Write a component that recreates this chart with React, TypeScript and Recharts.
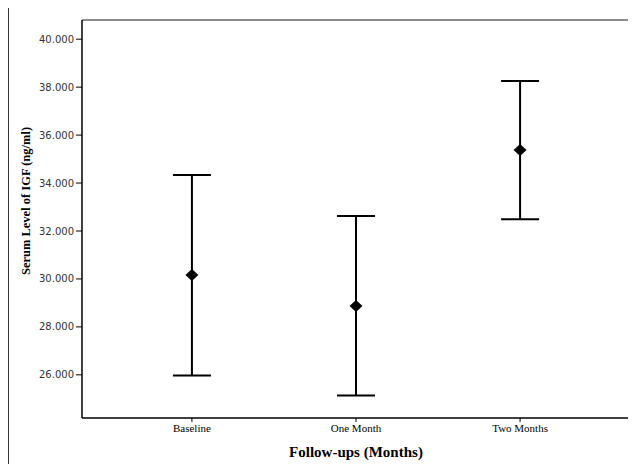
import React from 'react';
import {
  ComposedChart,
  Scatter,
  ErrorBar,
  XAxis,
  YAxis,
  ReferenceLine,
} from 'recharts';

const categories = ['Baseline', 'One Month', 'Two Months'];
const means = [30.16, 28.87, 35.38];
const lowerCI = [25.97, 25.14, 32.49];
const upperCI = [34.34, 32.63, 38.26];
const yTicks = [26, 28, 30, 32, 34, 36, 38, 40];

const X_DOMAIN: [number, number] = [-0.67, 2.67];
const Y_DOMAIN: [number, number] = [24.2, 40.8];

const data = categories.map((name, i) => ({
  x: i,
  name,
  mean: means[i],
  err: [means[i] - lowerCI[i], upperCI[i] - means[i]],
}));

const SERIF = '"Liberation Serif", "DejaVu Serif", serif';

function Diamond(props: { cx?: number; cy?: number }) {
  const { cx = 0, cy = 0 } = props;
  return (
    <polygon
      points={`${cx},${cy - 6} ${cx + 6.5},${cy} ${cx},${cy + 6} ${cx - 6.5},${cy}`}
      fill="#000"
    />
  );
}

function YTitle(props: { viewBox?: { x: number; y: number; width: number; height: number } }) {
  const vb = props.viewBox || { x: 0, y: 0, width: 0, height: 0 };
  const cx = vb.x + 26;
  const cy = 201;
  return (
    <text
      x={cx}
      y={cy}
      transform={`rotate(-90, ${cx}, ${cy})`}
      textAnchor="middle"
      dominantBaseline="central"
      fontFamily={SERIF}
      fontWeight="bold"
      fontSize={12.5}
      fill="#000"
    >
      Serum Level of IGF (ng/ml)
    </text>
  );
}

export default function App() {
  return (
    <div style={{ position: 'relative', margin: -8, width: 636, height: 472, background: '#fff', overflow: 'hidden' }}>
      <ComposedChart
        width={636}
        height={472}
        data={data}
        margin={{ top: 20, right: 6, left: 0, bottom: 9 }}
      >
        {/* outer figure frame (left + top edges) */}
        <line x1={8} y1={6} x2={8} y2={472} stroke="#333" strokeWidth={2} />
        <line x1={7} y1={6.5} x2={636} y2={6.5} stroke="#333" strokeWidth={2} />
        <XAxis
          dataKey="x"
          type="number"
          domain={X_DOMAIN}
          ticks={[0, 1, 2]}
          tickFormatter={(v: number) => categories[v]}
          height={45}
          axisLine={{ stroke: '#000', strokeWidth: 1.5 }}
          tickLine={{ stroke: '#000', strokeWidth: 1 }}
          tickSize={4}
          tick={{ fontFamily: SERIF, fontSize: 11, fill: '#000' }}
          label={{
            value: 'Follow-ups (Months)',
            position: 'insideBottom',
            offset: 6,
            style: { fontFamily: SERIF, fontWeight: 'bold', fontSize: 15, fill: '#000' },
          }}
        />
        <YAxis
          type="number"
          domain={Y_DOMAIN}
          ticks={yTicks}
          tickFormatter={(v: number) => v.toFixed(3)}
          width={82}
          axisLine={{ stroke: '#000', strokeWidth: 1.5 }}
          tickLine={{ stroke: '#000', strokeWidth: 1 }}
          tickSize={6}
          tick={{ fontFamily: '"DejaVu Sans", sans-serif', fontSize: 10, fill: '#333' }}
          label={<YTitle />}
        />
        <ReferenceLine y={Y_DOMAIN[1]} stroke="#666" strokeWidth={1.5} />
        <ReferenceLine x={X_DOMAIN[1]} stroke="#666" strokeWidth={1.5} />
        <Scatter dataKey="mean" shape={<Diamond />} isAnimationActive={false}>
          <ErrorBar
            dataKey="err"
            direction="y"
            width={19}
            stroke="#000"
            strokeWidth={2}
            isAnimationActive={false}
          />
        </Scatter>
      </ComposedChart>
    </div>
  );
}
